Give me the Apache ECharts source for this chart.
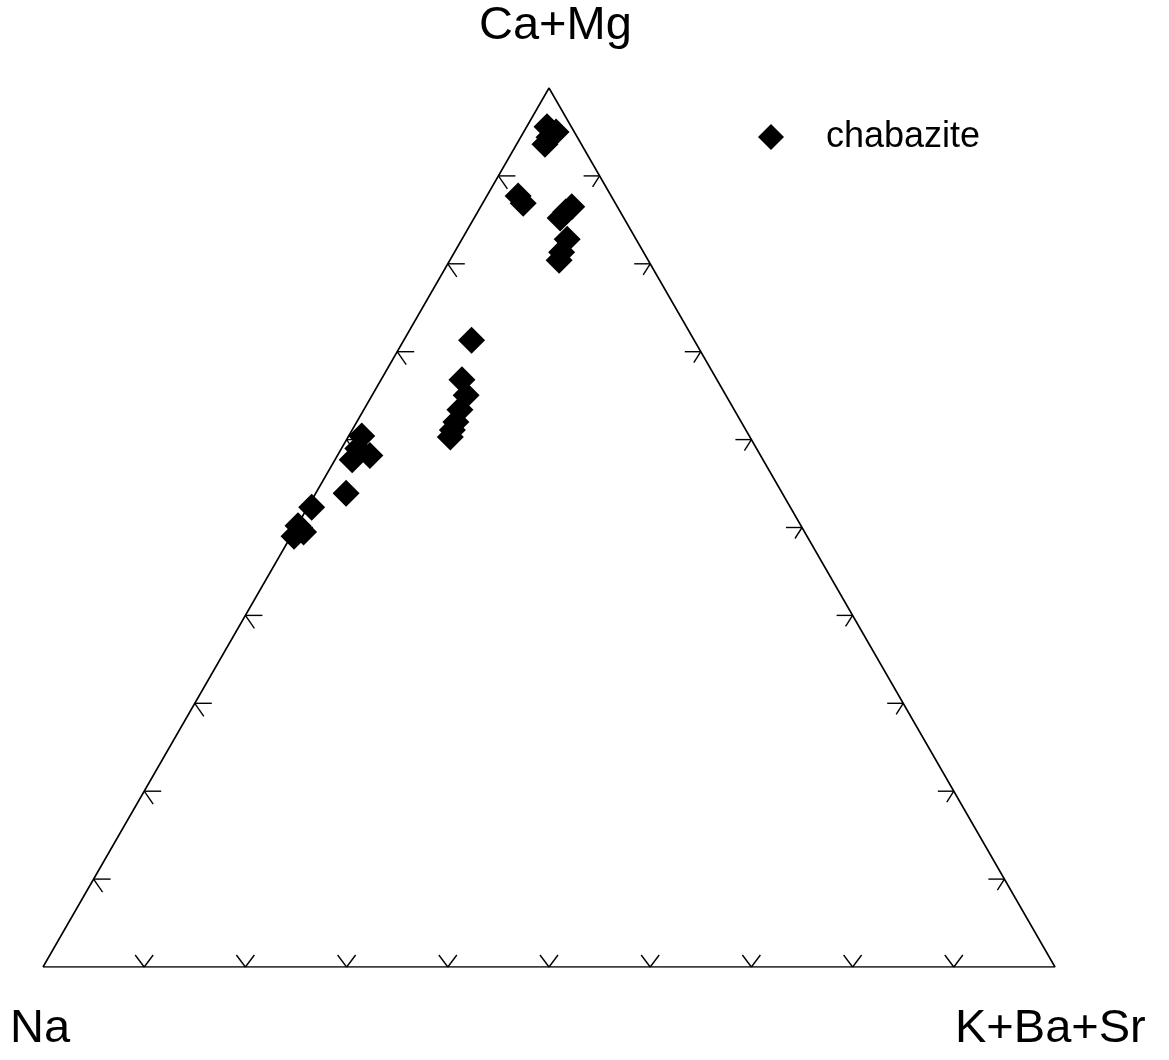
<!DOCTYPE html>
<html>
<head>
<meta charset="utf-8">
<title>chabazite ternary</title>
<script src="https://cdn.jsdelivr.net/npm/echarts@6/dist/echarts.min.js"></script>
<style>
  html, body { margin: 0; padding: 0; background: #fff; }
  #main { width: 1169px; height: 1060px; }
</style>
</head>
<body>
<div id="main"></div>
<script>
// compositions in %, one entry per analysis
var caMg   = [95.6, 95.0, 93.6, 94.4, 87.7, 86.9, 86.5, 85.9, 85.2, 82.8, 81.3, 80.4, 71.3,
              66.8, 65.1, 63.4, 62.0, 61.1, 60.3, 60.4, 58.2, 57.7, 59.0, 53.9, 52.3, 50.2, 49.5, 49.0];
var na     = [2.4, 1.8, 3.6, 2.8, 9.2, 9.1, 4.5, 5.4, 6.3, 6.8, 8.1, 8.8, 22.0,
              25.2, 25.7, 27.1, 28.2, 29.0, 29.6, 38.3, 38.6, 40.6, 39.4, 43.1, 47.3, 49.7, 49.5, 50.7];
var kBaSr  = [2.0, 3.2, 2.8, 2.8, 3.1, 4.0, 9.0, 8.7, 8.5, 10.4, 10.6, 10.8, 6.7,
              8.0, 9.3, 9.5, 9.8, 9.9, 10.1, 1.3, 3.2, 1.7, 1.6, 3.0, 0.4, 0.1, 1.0, 0.3];
var apexLabels = ['Ca+Mg', 'Na', 'K+Ba+Sr'];
var tickValues = [10, 20, 30, 40, 50, 60, 70, 80, 90];
var seriesName = 'chabazite';

// ternary -> plane: y = top fraction, x = right fraction + top/2
function toXY(top, left, right) {
  var s = top + left + right;
  var t = top / s, r = right / s;
  return [r + t / 2, t];
}

var points = [];
for (var i = 0; i < caMg.length; i++) {
  points.push(toXY(caMg[i], na[i], kBaSr[i]));
}

var frame = [toXY(0, 100, 0), toXY(100, 0, 0), toXY(0, 0, 100), toXY(0, 100, 0)];

// tick marks: [x, y, side] side 0 = left edge, 1 = bottom, 2 = right edge
var ticks = [];
tickValues.forEach(function (v) {
  var a = toXY(v, 100 - v, 0);
  ticks.push([a[0], a[1], 0]);
  var b = toXY(0, 100 - v, v);
  ticks.push([b[0], b[1], 1]);
  var c = toXY(v, 0, 100 - v);
  ticks.push([c[0], c[1], 2]);
});

// arm directions (pixels) for each side
var arms = [
  [[17, 0], [9, 13]],
  [[-9, -12], [9, -12]],
  [[-16, 0], [-7, 11]]
];

function renderTick(params, api) {
  var p = api.coord([api.value(0), api.value(1)]);
  var side = api.value(2);
  var kids = arms[side].map(function (d) {
    return {
      type: 'line',
      shape: { x1: p[0], y1: p[1], x2: p[0] + d[0], y2: p[1] + d[1] },
      style: { stroke: '#000', lineWidth: 1.4 }
    };
  });
  return { type: 'group', children: kids };
}

var chart = echarts.init(document.getElementById('main'));
var font = '"Liberation Sans", Arial, Helvetica, sans-serif';

var option = {
  backgroundColor: '#fff',
  animation: false,
  grid: { left: 43, top: 88, width: 1012, height: 879 },
  xAxis: { type: 'value', min: 0, max: 1, show: false },
  yAxis: { type: 'value', min: 0, max: 1, show: false },
  legend: {
    data: [seriesName],
    left: 758, top: 119, padding: 0,
    icon: 'diamond', itemWidth: 26, itemHeight: 26,
    itemStyle: { opacity: 1 },
    textStyle: { fontFamily: font, fontSize: 36, color: '#000', padding: [0, 0, 0, 37] }
  },
  graphic: [
    { type: 'text', left: 479, top: 3,
      style: { text: apexLabels[0], font: '47px ' + font, fill: '#000' } },
    { type: 'text', left: 10, top: 1006,
      style: { text: apexLabels[1], font: '47px ' + font, fill: '#000' } },
    { type: 'text', left: 955, top: 1006,
      style: { text: apexLabels[2], font: '47px ' + font, fill: '#000' } }
  ],
  series: [
    {
      type: 'line', data: frame, symbol: 'none', silent: true,
      lineStyle: { color: '#000', width: 1.6 }, z: 1
    },
    {
      type: 'custom', data: ticks, renderItem: renderTick, silent: true, z: 1
    },
    {
      name: seriesName, type: 'scatter', data: points,
      symbol: 'diamond', symbolSize: 27,
      itemStyle: { color: '#000', opacity: 1 }, z: 3
    }
  ]
};

chart.setOption(option);
</script>
</body>
</html>
